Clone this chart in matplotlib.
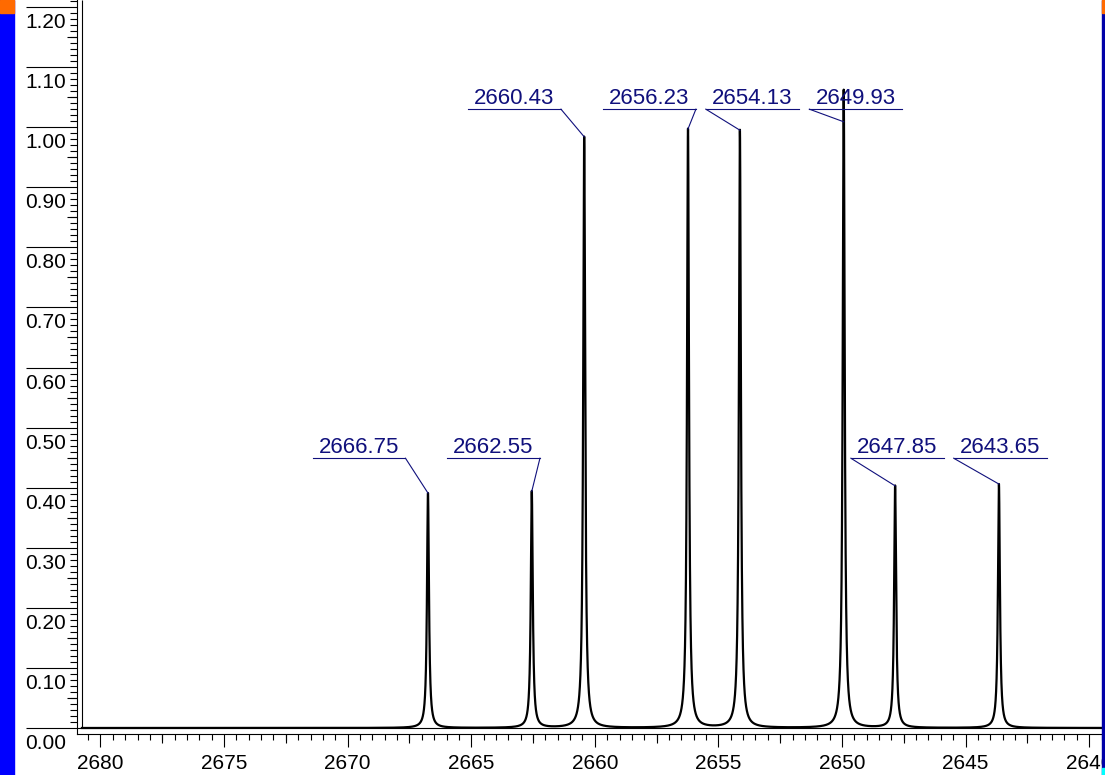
import numpy as np, matplotlib
matplotlib.use("Agg"); import matplotlib.pyplot as plt
from matplotlib.patches import Rectangle
from matplotlib.ticker import MultipleLocator, FixedLocator
from matplotlib.transforms import ScaledTranslation

plt.rcParams["font.family"] = ["Liberation Sans", "DejaVu Sans"]

# peak list (position, height)
peak_pos = [2666.75, 2662.55, 2660.43, 2656.23, 2654.13, 2649.93, 2647.85, 2643.65]
peak_h = [0.391, 0.394, 0.984, 0.997, 0.995, 1.062, 0.403, 0.406]
peak_w = 0.048  # lorentzian half width
x_ticks = [2680, 2675, 2670, 2665, 2660, 2655, 2650, 2645, 2640]
x_tick_labels = ["2680", "2675", "2670", "2665", "2660", "2655", "2650", "2645", "2640"]
y_ticks = [0.0, 0.1, 0.2, 0.3, 0.4, 0.5, 0.6, 0.7, 0.8, 0.9, 1.0, 1.1, 1.2]
y_tick_labels = ["0.00", "0.10", "0.20", "0.30", "0.40", "0.50", "0.60", "0.70",
                 "0.80", "0.90", "1.00", "1.10", "1.20"]

# label layout: underline centre, underline height, which end the leader leaves from, leader tip
lab_cx = [2669.54, 2664.10, 2663.25, 2657.79, 2653.63, 2649.44, 2647.76, 2643.60]
lab_y = [0.449, 0.449, 1.030, 1.030, 1.030, 1.030, 0.449, 0.449]
lab_side = ["r", "r", "r", "r", "l", "l", "l", "l"]
tip_y = [0.391, 0.394, 0.984, 0.997, 0.995, 1.009, 0.403, 0.406]
half_len = 1.88
navy = "#10107c"

W, H = 1105, 775
fig = plt.figure(figsize=(W/100, H/100), dpi=100)
ax = fig.add_axes([77/W, 41/H, 1025/W, 734/H])
x_lo, x_hi = 2680.95, 2639.48
ax.set_xlim(x_lo, x_hi); ax.set_ylim(-0.00999, 1.2117)

x = np.linspace(2680.75, x_hi, 80001)
y = np.zeros_like(x)
for p, h in zip(peak_pos, peak_h):
    y += h * peak_w**2 / ((x - p)**2 + peak_w**2)
ax.plot(x, y, color="black", lw=1.6, zorder=3)
ax.axhline(0, color="black", lw=0.8, zorder=2)
ax.vlines(2680.75, 0, 1.2117, color="black", lw=0.8)

for sp in ("top", "right"): ax.spines[sp].set_visible(False)
for sp in ("left", "bottom"): ax.spines[sp].set_linewidth(0.8)

# x axis ticks
ax.xaxis.set_major_locator(FixedLocator(x_ticks))
ax.set_xticklabels(x_tick_labels, fontsize=15)
ax.xaxis.set_minor_locator(MultipleLocator(0.5))
ax.tick_params(axis="x", which="major", length=9.5, width=0.8, pad=5)
ax.tick_params(axis="x", which="minor", length=4.3, width=0.8)
mid_x = [v - 2.5 for v in x_ticks]
ax.vlines(mid_x, -9/734, 0, transform=ax.get_xaxis_transform(), color="black", lw=0.8, clip_on=False)

# y axis ticks: long major lines, labels hung beneath them
ax.yaxis.set_major_locator(FixedLocator(y_ticks))
ax.yaxis.set_minor_locator(MultipleLocator(0.01))
ax.set_yticklabels([])
ax.tick_params(axis="y", which="major", length=36.7, width=0.8)
ax.tick_params(axis="y", which="minor", length=5, width=0.8)
mid_y = [v + 0.05 for v in y_ticks[:-1]] + [1.25]
ax.hlines(mid_y, -10/1025, 0, transform=ax.get_yaxis_transform(), color="black", lw=0.8, clip_on=False)
off = ScaledTranslation(0, -15.5/100, fig.dpi_scale_trans)
for v, s in zip(y_ticks, y_tick_labels):
    ax.text(-11/1025, v, s, transform=ax.get_yaxis_transform() + off,
            ha="right", va="center", fontsize=15, clip_on=False)

# peak labels
for p, s, cx, ly, side, ty in zip(peak_pos, peak_pos, lab_cx, lab_y, lab_side, tip_y):
    xl, xr = cx + half_len, cx - half_len
    ax.plot([xl, xr], [ly, ly], color=navy, lw=0.8, zorder=4)
    ex = xr if side == "r" else xl
    ax.plot([ex, p], [ly, ty], color=navy, lw=0.8, zorder=4)
    ax.annotate(f"{s:.2f}", xy=(cx, ly), xytext=(0, 3.5), textcoords="offset points",
                ha="center", va="baseline", fontsize=16, color=navy, zorder=5)

# coloured window edges
fig.patches.append(Rectangle((0, 0), 14/W, 1, transform=fig.transFigure, color="#0000ff", zorder=10))
fig.patches.append(Rectangle((0, 1-13/H), 14/W, 13/H, transform=fig.transFigure, color="#ff6a00", zorder=11))
fig.patches.append(Rectangle((1102/W, 0), 3/W, 1, transform=fig.transFigure, color="#0000a8", zorder=10))
fig.patches.append(Rectangle((1102/W, 1-13/H), 3/W, 13/H, transform=fig.transFigure, color="#ff6a00", zorder=11))
fig.patches.append(Rectangle((1102/W, 0), 3/W, 7/H, transform=fig.transFigure, color="#00ffff", zorder=11))

fig.savefig("out.png", dpi=100)
